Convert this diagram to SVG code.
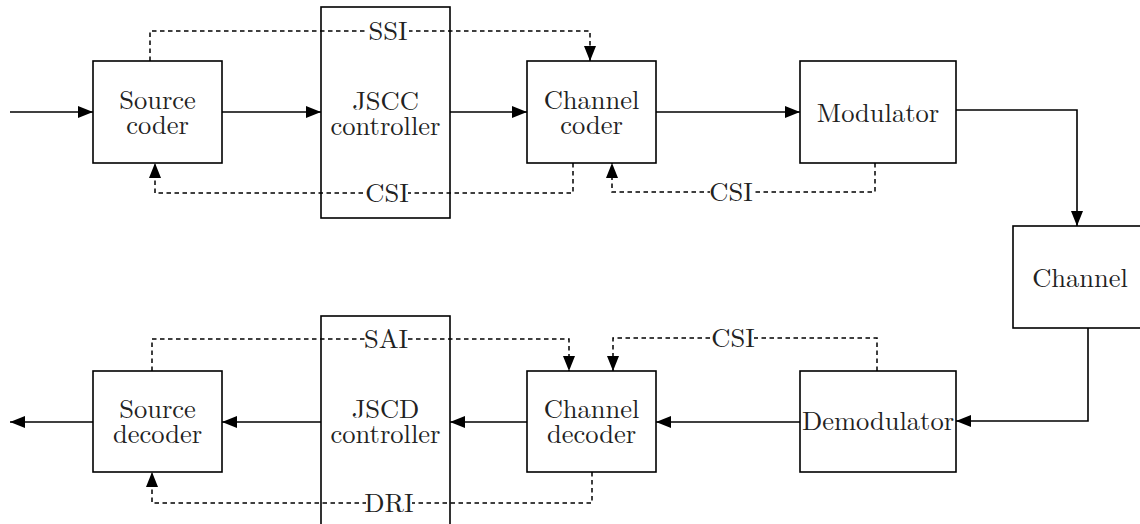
<svg xmlns="http://www.w3.org/2000/svg" width="1140" height="524" viewBox="0 0 1140 524">
<defs>
<marker id="ah" markerWidth="15" markerHeight="12" refX="15" refY="6" orient="auto" markerUnits="userSpaceOnUse">
<path d="M0,0 L15,6 L0,12 z" fill="#000" stroke="none"/>
</marker>
<style>
.box{fill:#fff;stroke:#000;stroke-width:1.6}
.t{font-size:26.5px;fill:#222;text-anchor:middle}
.s{fill:none;stroke:#000;stroke-width:1.6;marker-end:url(#ah)}
.d{fill:none;stroke:#000;stroke-width:1.5;stroke-dasharray:4.5 3.5;marker-end:url(#ah)}
.bg{fill:#fff;stroke:none}
</style>
</defs>
<rect width="1140" height="524" fill="#fff"/>
<g font-family="Latin Modern Roman, Liberation Serif, serif">
<g id="source-coder"><rect class="box" x="93" y="61" width="129" height="102"/><text class="t" x="157.5" y="109">Source</text><text class="t" x="157.5" y="134">coder</text></g>
<g id="jscc-controller"><rect class="box" x="321" y="7" width="129" height="211"/><text class="t" x="385.5" y="110">JSCC</text><text class="t" x="385.5" y="135">controller</text></g>
<g id="channel-coder"><rect class="box" x="527" y="61" width="129" height="102"/><text class="t" x="591.5" y="109">Channel</text><text class="t" x="591.5" y="134">coder</text></g>
<g id="modulator"><rect class="box" x="800" y="61" width="156" height="102"/><text class="t" x="878" y="122">Modulator</text></g>
<g id="channel"><rect class="box" x="1013" y="226" width="134" height="102"/><text class="t" x="1080" y="287">Channel</text></g>
<g id="source-decoder"><rect class="box" x="93" y="371" width="129" height="101"/><text class="t" x="157.5" y="418">Source</text><text class="t" x="157.5" y="443">decoder</text></g>
<g id="jscd-controller"><rect class="box" x="321" y="316" width="129" height="220"/><text class="t" x="385.5" y="418">JSCD</text><text class="t" x="385.5" y="443">controller</text></g>
<g id="channel-decoder"><rect class="box" x="527" y="371" width="129" height="101"/><text class="t" x="591.5" y="418">Channel</text><text class="t" x="591.5" y="443">decoder</text></g>
<g id="demodulator"><rect class="box" x="800" y="371" width="156" height="101"/><text class="t" x="878" y="430">Demodulator</text></g>
<g id="connectors">
<path class="s" d="M10,112 H93"/>
<path class="s" d="M222,112 H321"/>
<path class="s" d="M450,112 H527"/>
<path class="s" d="M656,112 H800"/>
<path class="s" d="M956,110 H1077 V226"/>
<path class="s" d="M1088,328 V421 H956"/>
<path class="s" d="M800,422 H656"/>
<path class="s" d="M527,422 H450"/>
<path class="s" d="M321,422 H222"/>
<path class="s" d="M93,422 H10"/>
<path class="d" d="M150,61 V31 H590 V61"/>
<path class="d" d="M573,163 V193 H155 V163"/>
<path class="d" d="M875,163 V192 H612 V163"/>
<path class="d" d="M152,371 V339 H569 V371"/>
<path class="d" d="M877,371 V338 H613 V371"/>
<path class="d" d="M592,472 V503 H152 V472"/>
<rect class="bg" x="367" y="20" width="42" height="22"/><text class="t" x="388" y="40">SSI</text>
<rect class="bg" x="366" y="182" width="42" height="22"/><text class="t" x="387" y="202">CSI</text>
<rect class="bg" x="710" y="181" width="42" height="22"/><text class="t" x="731" y="201">CSI</text>
<rect class="bg" x="365" y="328" width="42" height="22"/><text class="t" x="386" y="348">SAI</text>
<rect class="bg" x="712" y="327" width="42" height="22"/><text class="t" x="733" y="347">CSI</text>
<rect class="bg" x="366" y="492" width="46" height="22"/><text class="t" x="389" y="512">DRI</text>
</g>
</g>
</svg>
